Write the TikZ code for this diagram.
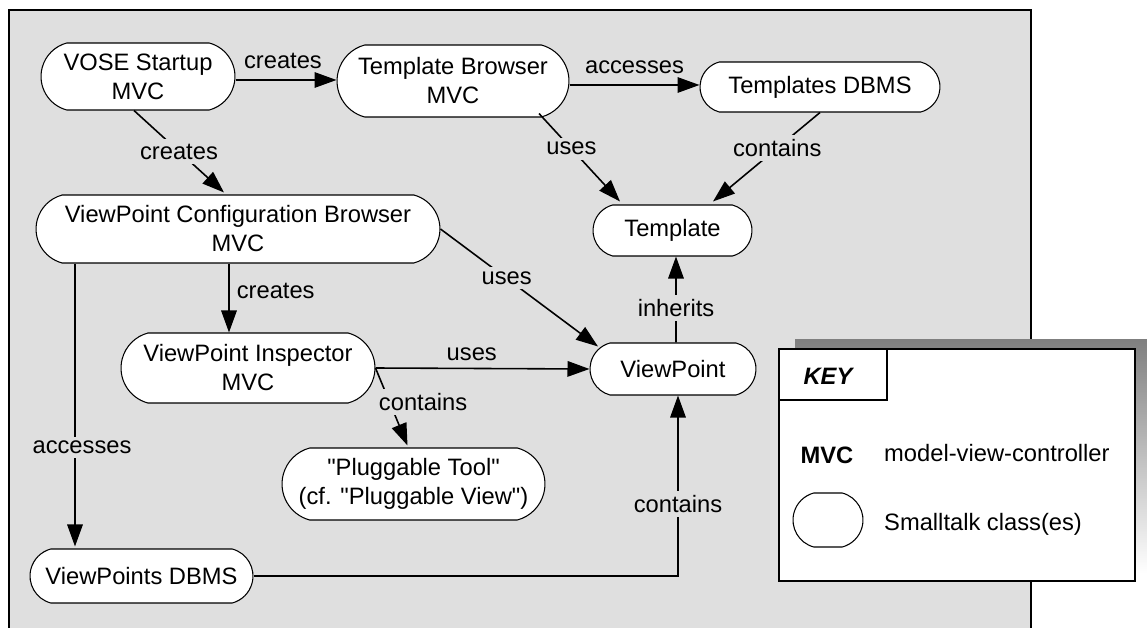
\documentclass[tikz,border=0pt]{standalone}
\usepackage{fontspec}
\setmainfont{Liberation Sans}[Ligatures=TeXOff]
\usetikzlibrary{arrows.meta,calc,shapes.misc}
\definecolor{panel}{RGB}{223,223,223}
\definecolor{shade}{RGB}{58,58,58}
\tikzset{
  >=Triangle,
  font=\fontsize{13.5}{16.5}\selectfont,
  cls/.style  ={draw, line width=0.6pt, fill=white, rounded rectangle, rounded rectangle arc length=150, inner sep=0pt, align=center},
  arr/.style  ={-{Triangle[length=4.4mm,width=3.1mm]}, line width=0.9pt},
  lbl/.style  ={fill=panel, inner sep=2.5pt},
  tag/.style  ={inner sep=1pt},
}

\begin{document}
\begin{tikzpicture}[x=0.02cm, y=-0.02cm]
  \useasboundingbox (0,0) rectangle (1147,628);
  \draw[fill=panel, line width=1.6pt] (9,10) rectangle (1031,660);

  % key
  \fill[shade] (795,340) rectangle (1160,573);
  \draw[fill=white, line width=1.6pt] (779,349) rectangle (1135,581);
  \draw[line width=1.2pt] (779,349) rectangle (887,400);
  \node (keyhd) at (828,376) {\bfseries\itshape KEY};
  \node (mvc) at (827,455) {\bfseries MVC};
  \node[anchor=west] (mvcdef) at (878,453) {model-view-controller};
  \node[cls, minimum width=1.4cm, minimum height=1.08cm] (keycls) at (828,520) {};
  \node[anchor=west] (clsdef) at (878,524) {Smalltalk class(es)};

  % classes
  \node[cls, minimum width=3.88cm, minimum height=1.34cm] (vose)   at (138,76.5) {VOSE Startup\\MVC};
  \node[cls, minimum width=4.64cm, minimum height=1.44cm] (tbrow)  at (453,81)   {Template Browser\\MVC};
  \node[cls, minimum width=4.80cm, minimum height=1.00cm] (tdbms)  at (820,87)   {Templates DBMS};
  \node[cls, minimum width=3.18cm, minimum height=1.02cm] (tmpl)   at (672.5,230.5) {Template};
  \node[cls, minimum width=8.08cm, minimum height=1.36cm] (vcb)    at (238,229)  {ViewPoint Configuration Browser\\MVC};
  \node[cls, minimum width=5.08cm, minimum height=1.40cm] (insp)   at (248,368)  {ViewPoint Inspector\\MVC};
  \node[cls, minimum width=3.32cm, minimum height=1.04cm] (vp)     at (673,369)  {ViewPoint};
  \node[cls, minimum width=5.26cm, minimum height=1.44cm] (plug)   at (413.5,484) {"Pluggable Tool"\\(cf. "Pluggable View")};
  \node[cls, minimum width=4.46cm, minimum height=1.08cm] (vpdbms) at (141.5,576) {ViewPoints DBMS};

  % relations
  \draw[arr] (vose.east |- 0,80) -- node[tag, above=5pt, pos=.47]{creates} (tbrow.west |- 0,80);
  \draw[arr] (tbrow.east |- 0,85) -- node[tag, above=5pt]{accesses} (tdbms.west |- 0,85);
  \draw[arr] ($(vose.south)+(-4,0)$) -- node[lbl]{creates} ($(vcb.north)+(-14,-2)$);
  \draw[arr] ($(tbrow.south)+(86,-4)$) -- node[lbl, pos=.4]{uses} ($(tmpl.north)+(-52.5,-3)$);
  \draw[arr] (tdbms.south) -- node[lbl, pos=.4]{contains} ($(tmpl.north)+(40.5,-3)$);
  \draw[arr] (vcb.east) -- node[lbl, pos=.42]{uses} ($(vp.north)+(-75,4)$);
  \draw[arr] ($(vcb.south)+(-9,0)$) -- node[tag, right=3pt, pos=.4]{creates} ($(insp.north)+(-19,0)$);
  \draw[arr] ($(vcb.south)+(-163,0)$) -- node[lbl, pos=.65, xshift=4pt]{accesses} ($(vpdbms.north)+(-66.5,-2)$);
  \draw[arr] (insp.east) -- node[tag, above=3pt, pos=.45]{uses} (vp.west);
  \draw[arr] (insp.east) -- node[lbl, pos=.44, anchor=west, xshift=-9pt]{contains} ($(plug.north)+(-6,-2)$);
  \draw[arr] (vpdbms.east) -| node[lbl, pos=.7]{contains} ($(vp.south)+(5,0)$);
  \draw[arr] ($(vp.north)+(3,0)$) -- node[lbl, pos=.4]{inherits} ($(tmpl.south)+(3.5,0)$);
\end{tikzpicture}
\end{document}
